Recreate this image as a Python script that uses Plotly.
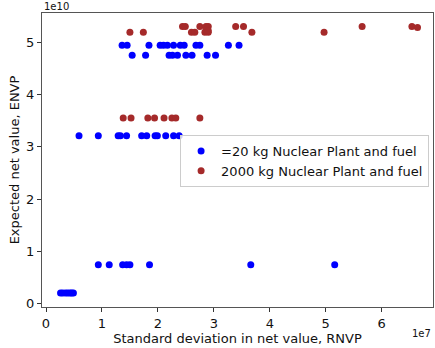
import plotly.graph_objects as go

# x: standard deviation in net value (units of 1e7), y: expected net value (units of 1e10)
blue_x = [0.26, 0.30, 0.35, 0.39, 0.43, 0.46, 0.49,
          0.935, 1.13, 1.37, 1.44, 1.50, 1.85, 3.66, 5.16,
          0.59, 0.935, 1.29, 1.33, 1.44, 1.71, 1.80, 1.95, 1.99, 2.14, 2.28, 2.38,
          1.36, 1.45, 1.84, 2.04, 2.10, 2.17, 2.28, 2.40, 2.47, 2.68, 2.75, 3.26, 3.45,
          1.54, 1.78, 2.20, 2.26, 2.35, 2.50, 2.61, 2.88, 3.03]
blue_y = [0.205] * 7 + [0.745] * 8 + [3.21] * 12 + [4.94] * 13 + [4.75] * 9

red_x = [1.38, 1.52, 1.82, 1.94, 2.11, 2.25, 2.32, 2.75,
         1.50, 1.74, 2.60, 2.66, 2.84, 2.90, 3.68, 4.97,
         2.44, 2.49, 2.75, 2.86, 2.90, 3.39, 3.53, 5.65, 6.54, 6.64,
         2.86, 2.90]
red_y = [3.55] * 8 + [5.19] * 8 + [5.30] * 9 + [5.28] + [5.22, 5.22]

FONT = "DejaVu Sans"
fig = go.Figure()
fig.add_trace(go.Scatter(x=blue_x, y=blue_y, mode="markers", name="=20 kg Nuclear Plant and fuel",
                         marker=dict(color="#0000ff", size=7, line=dict(width=0))))
fig.add_trace(go.Scatter(x=red_x, y=red_y, mode="markers", name="2000 kg Nuclear Plant and fuel",
                         marker=dict(color="#a52a2a", size=7, line=dict(width=0))))

axis_common = dict(showgrid=False, zeroline=False, showline=True, linecolor="#555555", linewidth=1,
                   mirror=True, ticks="outside", ticklen=4, tickcolor="#333333",
                   tickfont=dict(family=FONT, size=13, color="#111111"))
fig.update_layout(
    width=435, height=348,
    margin=dict(l=42, r=2, t=13, b=41, autoexpand=False),
    paper_bgcolor="white", plot_bgcolor="white",
    font=dict(family=FONT, size=13, color="#111111"),
    xaxis=dict(range=[-0.0715, 6.917], tickvals=[0, 1, 2, 3, 4, 5, 6],
               title=dict(text="Standard deviation in net value, RNVP", standoff=0,
                          font=dict(family=FONT, size=13)), **axis_common),
    yaxis=dict(range=[-0.063, 5.558], tickvals=[0, 1, 2, 3, 4, 5],
               title=dict(text="Expected net value, ENVP", standoff=3,
                          font=dict(family=FONT, size=13)), **axis_common),
    legend=dict(x=0.99, y=0.585, xanchor="right", yanchor="top",
                bgcolor="rgba(255,255,255,0.8)", bordercolor="#cccccc", borderwidth=1,
                font=dict(family=FONT, size=13), itemwidth=30, tracegroupgap=0),
    showlegend=True,
    annotations=[
        dict(text="1e10", xref="paper", yref="paper", x=0, y=1, xanchor="left", yanchor="bottom",
             showarrow=False, font=dict(family=FONT, size=10, color="#111111"), yshift=-1),
        dict(text="1e7", xref="paper", yref="paper", x=1, y=0, xanchor="right", yanchor="top",
             showarrow=False, font=dict(family=FONT, size=10, color="#111111"), yshift=-19),
    ],
)
fig.write_html("out.html")
